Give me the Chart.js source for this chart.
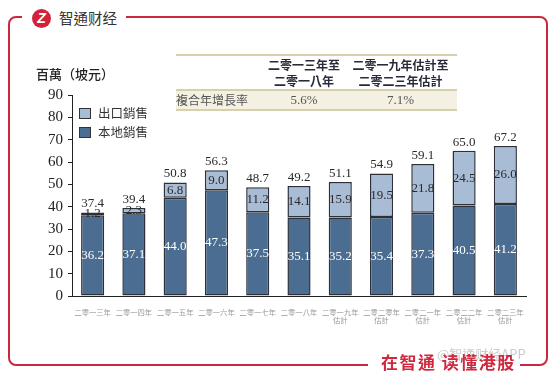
<!DOCTYPE html>
<html>
<head>
<meta charset="utf-8">
<script src="https://cdn.jsdelivr.net/npm/chart.js@4.4.1/dist/chart.umd.min.js"></script>
<style>
    html, body { margin: 0; padding: 0; background: #fff; }
    #wrap { position: relative; width: 554px; height: 377px; overflow: hidden; font-family: "Noto Sans CJK TC", "Noto Sans", sans-serif; }
    #chart { position: absolute; left: 0; top: 0; }
    .frame { position: absolute; left: 8px; top: 16px; width: 536px; height: 346px; border: 2px solid #c9283e; border-radius: 8px; }
    .abs { position: absolute; white-space: nowrap; }
    .logo-gap { left: 22px; top: 6px; width: 104px; height: 24px; background: #fff; }
    .logo { left: 32px; top: 9px; width: 19px; height: 19px; border-radius: 50%; background: #d3213a; color: #fff; font: italic bold 14px "Liberation Sans", sans-serif; text-align: center; line-height: 19px; }
    .brand { left: 59px; top: 8px; font-size: 14.5px; color: #333; line-height: 20px; }
    .foot-gap { left: 368px; top: 352px; width: 152px; height: 22px; background: #fff; }
    .foot { left: 381px; top: 351px; font-size: 17px; font-weight: bold; color: #d0283e; line-height: 22px; letter-spacing: 1.5px; }
    .mark { left: 437px; top: 346px; font-size: 13px; color: rgba(160,160,160,0.55); line-height: 16px; }
    .ytitle { left: 36px; top: 65px; font-size: 13px; font-weight: 500; color: #222; line-height: 18px; }
    .legend { left: 79px; font-size: 12.5px; color: #333; line-height: 16px; }
    .legend i { display: inline-block; width: 10px; height: 9px; border: 1px solid #333; margin-right: 7px; vertical-align: -1px; }
    table.cagr { position: absolute; left: 176px; top: 54px; width: 281px; border-collapse: collapse; font-size: 12px; line-height: 16px; }
    table.cagr td { padding: 0; text-align: center; }
    table.cagr tr.head td { color: #2a2a3a; font-weight: bold; height: 33px; border-top: 2px solid #d6d0ad; border-bottom: 2px solid #d6d0ad; }
    table.cagr tr.row td { color: #555; background: #f4f1e3; height: 18px; border-bottom: 2px solid #d6d0ad; }
    table.cagr tr.row td.num { font-family: "Liberation Serif", serif; font-size: 13px; }
</style>
</head>
<body>
<div id="wrap">
    <canvas id="chart" width="554" height="377"></canvas>
    <div class="frame"></div>
    <div class="abs logo-gap"></div>
    <div class="abs logo">Z</div>
    <div class="abs brand">智通财经</div>
    <div class="abs foot-gap"></div>
    <div class="abs mark">@智通财经APP</div>
    <div class="abs foot">在智通 读懂港股</div>
    <div class="abs ytitle">百萬（坡元）</div>
    <div id="legend"></div>
    <table class="cagr">
        <tr class="head"><td style="width:88px"></td><td style="width:80px">二零一三年至<br>二零一八年</td><td>二零一九年估計至<br>二零二三年估計</td></tr>
        <tr class="row"><td style="text-align:left">複合年增長率</td><td class="num">5.6%</td><td class="num">7.1%</td></tr>
    </table>
</div>
<script>
// Données du graphique
const categories = [
    '二零一三年', '二零一四年', '二零一五年', '二零一六年', '二零一七年', '二零一八年',
    ['二零一九年', '估計'], ['二零二零年', '估計'], ['二零二一年', '估計'], ['二零二二年', '估計'], ['二零二三年', '估計']
];
const localSales = [36.2, 37.1, 44.0, 47.3, 37.5, 35.1, 35.2, 35.4, 37.3, 40.5, 41.2];
const exportSales = [1.2, 2.3, 6.8, 9.0, 11.2, 14.1, 15.9, 19.5, 21.8, 24.5, 26.0];
const totals = [37.4, 39.4, 50.8, 56.3, 48.7, 49.2, 51.1, 54.9, 59.1, 65.0, 67.2];
const yTicks = [0, 10, 20, 30, 40, 50, 60, 70, 80, 90];

const DARK = '#4b6d92';
const LIGHT = '#a9bcd6';
const EDGE = '#2b3039';

// Légende maison
const legendItems = [
    { label: '出口銷售', color: LIGHT, top: 105 },
    { label: '本地銷售', color: DARK, top: 124 }
];
document.getElementById('legend').innerHTML = legendItems.map(it =>
    `<div class="abs legend" style="top:${it.top}px"><i style="background:${it.color}"></i>${it.label}</div>`
).join('');

// Étiquettes de valeurs sur les barres
const valueLabels = {
    id: 'valueLabels',
    afterDatasetsDraw(chart) {
        const ctx = chart.ctx;
        ctx.save();
        ctx.font = '13px "Liberation Serif", serif';
        ctx.textAlign = 'center';
        ctx.textBaseline = 'middle';
        const local = chart.getDatasetMeta(0).data;
        const exp = chart.getDatasetMeta(1).data;
        local.forEach((bar, i) => {
            ctx.fillStyle = '#ffffff';
            ctx.fillText(localSales[i].toFixed(1), bar.x, (bar.y + bar.base) / 2);
        });
        exp.forEach((bar, i) => {
            ctx.fillStyle = '#2a2a2a';
            ctx.fillText(exportSales[i].toFixed(1), bar.x, (bar.y + bar.base) / 2);
            ctx.textBaseline = 'bottom';
            ctx.fillText(totals[i].toFixed(1), bar.x, bar.y - 2);
            ctx.textBaseline = 'middle';
        });
        ctx.restore();
    }
};

const config = {
    type: 'bar',
    data: {
        labels: categories,
        datasets: [
            {
                label: '本地銷售',
                data: localSales,
                backgroundColor: DARK,
                borderColor: EDGE,
                borderWidth: 1.5,
                borderSkipped: false,
                categoryPercentage: 1,
                barPercentage: 0.56
            },
            {
                label: '出口銷售',
                data: exportSales,
                backgroundColor: LIGHT,
                borderColor: EDGE,
                borderWidth: 1.5,
                borderSkipped: false,
                categoryPercentage: 1,
                barPercentage: 0.56
            }
        ]
    },
    options: {
        responsive: false,
        animation: false,
        devicePixelRatio: 1,
        layout: {
            padding: { left: 0, right: 28, top: 95, bottom: 41 }
        },
        plugins: {
            legend: { display: false },
            tooltip: { enabled: false }
        },
        scales: {
            x: {
                stacked: true,
                grid: { display: false },
                border: { display: true, color: '#222', width: 1 },
                ticks: {
                    color: '#999',
                    padding: 4,
                    maxRotation: 0,
                    autoSkip: false,
                    font: { size: 7.3, family: '"Noto Sans CJK TC", sans-serif', lineHeight: 1.15 }
                },
                afterFit(scale) { scale.height = 40; }
            },
            y: {
                stacked: true,
                min: 0,
                max: 90,
                afterBuildTicks(scale) { scale.ticks = yTicks.map(v => ({ value: v })); },
                grid: { drawOnChartArea: false, drawTicks: true, tickLength: 4, color: '#222' },
                border: { display: true, color: '#222', width: 1 },
                ticks: {
                    color: '#222',
                    padding: 5,
                    font: { size: 15, family: '"Liberation Serif", serif' }
                },
                afterFit(scale) { scale.width = 72; }
            }
        }
    },
    plugins: [valueLabels]
};

new Chart(document.getElementById('chart'), config);
</script>
</body>
</html>
